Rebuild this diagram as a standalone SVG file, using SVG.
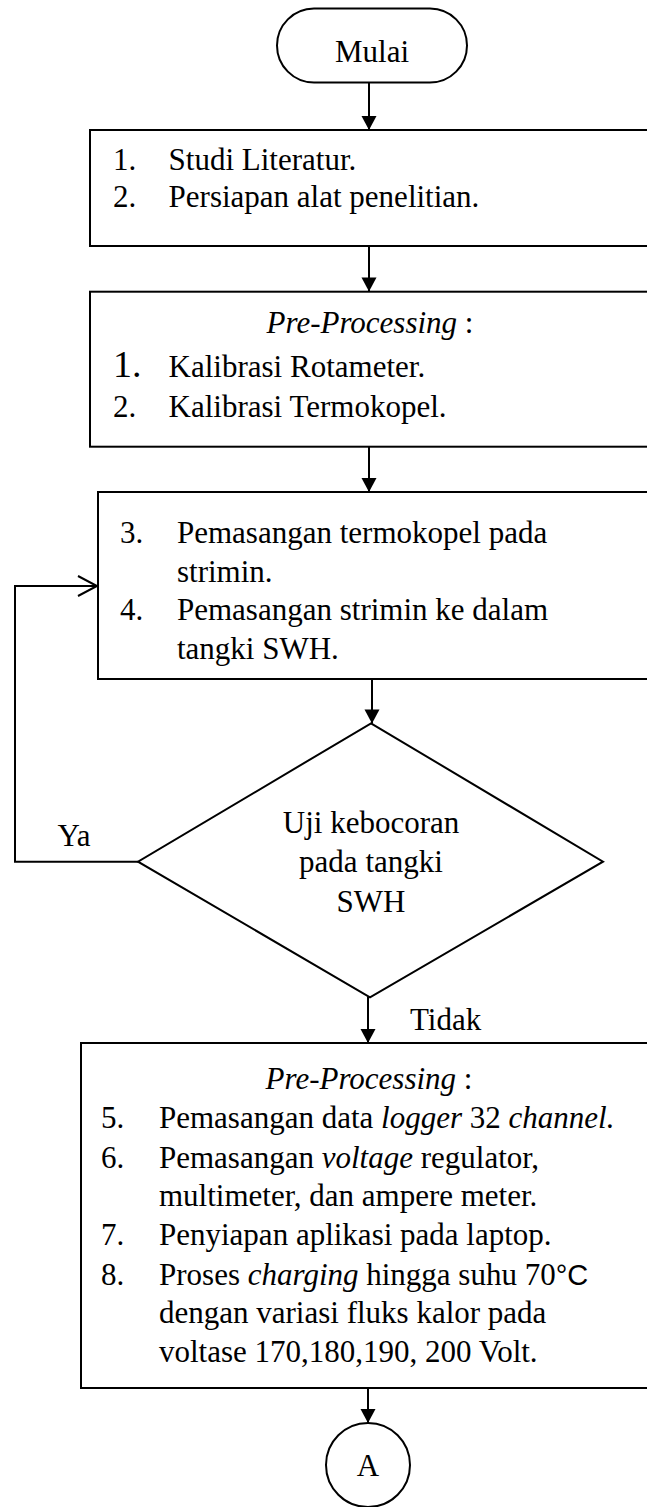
<svg xmlns="http://www.w3.org/2000/svg" width="647" height="1507" viewBox="0 0 647 1507">
<style>
text{font-family:"Liberation Serif","Times New Roman",serif;font-size:31px;fill:#000}
.c{text-anchor:middle}
.i{font-style:italic}
.shape{fill:#fff;stroke:#000;stroke-width:2}
.conn{fill:none;stroke:#000;stroke-width:2}
</style>
<defs>
<marker id="ah" markerUnits="userSpaceOnUse" markerWidth="16" markerHeight="16" refX="14" refY="7.5" orient="auto" overflow="visible">
<path d="M0,0 L14,7.5 L0,15 Z" fill="#000"/>
</marker>
<marker id="oh" markerUnits="userSpaceOnUse" markerWidth="22" markerHeight="24" refX="19" refY="10" orient="auto" overflow="visible">
<path d="M0,0 L19,10 L0,20" fill="none" stroke="#000" stroke-width="2"/>
</marker>
</defs>
<g id="connectors">
<line class="conn" x1="369" y1="83" x2="369" y2="130" marker-end="url(#ah)"/>
<line class="conn" x1="369" y1="246" x2="369" y2="291.5" marker-end="url(#ah)"/>
<line class="conn" x1="369" y1="447" x2="369" y2="492" marker-end="url(#ah)"/>
<line class="conn" x1="372" y1="679" x2="372" y2="723.5" marker-end="url(#ah)"/>
<polyline class="conn" points="138,861.7 15,861.7 15,586 97,586" marker-end="url(#oh)"/>
<line class="conn" x1="368" y1="997" x2="368" y2="1043" marker-end="url(#ah)"/>
<line class="conn" x1="368" y1="1388" x2="368" y2="1423" marker-end="url(#ah)"/>
<text x="74" y="846" class="c">Ya</text>
<text x="410" y="1030">Tidak</text>
</g>
<g id="mulai">
<rect class="shape" x="277" y="8.5" width="190" height="74" rx="37" ry="37"/>
<text x="372" y="61.5" class="c">Mulai</text>
</g>
<g id="box1">
<rect class="shape" x="90" y="130" width="570" height="116"/>
<text x="113" y="170">1.</text><text x="168.6" y="170">Studi Literatur.</text>
<text x="113" y="207.3">2.</text><text x="168.6" y="207.3">Persiapan alat penelitian.</text>
</g>
<g id="box2">
<rect class="shape" x="90" y="291.7" width="570" height="155"/>
<text x="370" y="333" class="c"><tspan class="i">Pre-Processing</tspan> :</text>
<text x="113" y="376.7" style="font-size:38px">1.</text><text x="168.6" y="376.7">Kalibrasi Rotameter.</text>
<text x="113" y="416.7">2.</text><text x="168.6" y="416.7">Kalibrasi Termokopel.</text>
</g>
<g id="box3">
<rect class="shape" x="98" y="492" width="562" height="187"/>
<text x="120" y="543.3">3.</text><text x="177" y="543.3">Pemasangan termokopel pada</text>
<text x="177" y="581.7">strimin.</text>
<text x="120" y="620">4.</text><text x="177" y="620">Pemasangan strimin ke dalam</text>
<text x="177" y="659">tangki SWH.</text>
</g>
<g id="decision">
<polygon class="shape" points="371,723.3 603,861.7 370,997.3 138,861.7"/>
<text x="371" y="832.7" class="c">Uji kebocoran</text>
<text x="371" y="871.7" class="c">pada tangki</text>
<text x="371" y="911.7" class="c">SWH</text>
</g>
<g id="box4">
<rect class="shape" x="81" y="1043" width="580" height="345"/>
<text x="369" y="1089" class="c"><tspan class="i">Pre-Processing</tspan> :</text>
<text x="101" y="1128.3">5.</text><text x="159" y="1128.3">Pemasangan data <tspan class="i">logger</tspan> 32 <tspan class="i">channel.</tspan></text>
<text x="101" y="1168.3">6.</text><text x="159" y="1168.3">Pemasangan <tspan class="i">voltage</tspan> regulator,</text>
<text x="159" y="1206">multimeter, dan ampere meter.</text>
<text x="101" y="1245">7.</text><text x="159" y="1245">Penyiapan aplikasi pada laptop.</text>
<text x="101" y="1285">8.</text><text x="159" y="1285">Proses <tspan class="i">charging</tspan> hingga suhu 70<tspan style="font-family:'Liberation Sans',Arial,sans-serif;font-size:29px">°C</tspan></text>
<text x="159" y="1322.7">dengan variasi fluks kalor pada</text>
<text x="159" y="1361.7">voltase 170,180,190, 200 Volt.</text>
</g>
<g id="connectorA">
<circle class="shape" cx="368" cy="1465" r="42"/>
<text x="368" y="1476" class="c">A</text>
</g>
</svg>
